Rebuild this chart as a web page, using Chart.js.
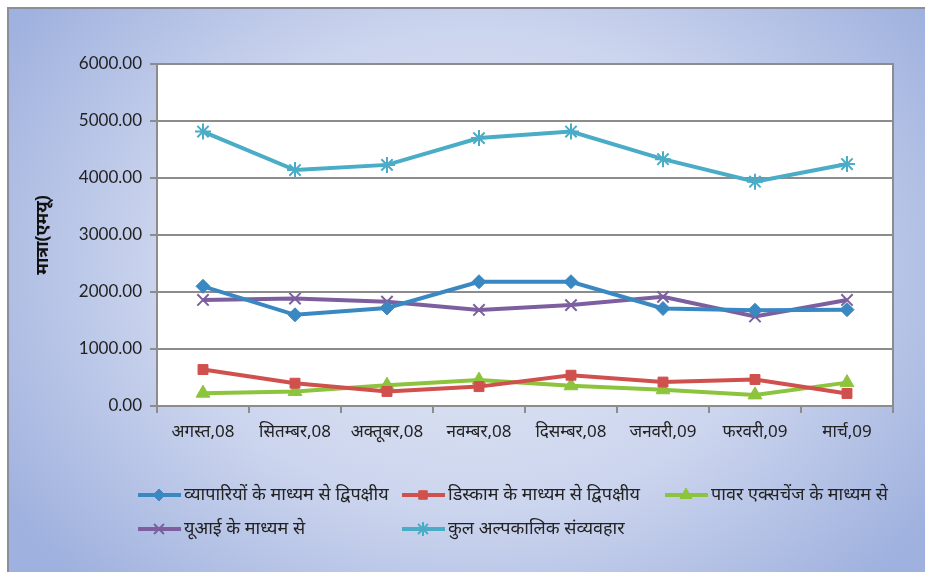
<!DOCTYPE html>
<html>
<head>
<meta charset="utf-8">
<script src="https://cdn.jsdelivr.net/npm/chart.js@4.4.1/dist/chart.umd.min.js"></script>
<style>
  html, body { margin: 0; padding: 0; background: #ffffff; }
  #wrap {
    position: absolute; left: 0; top: 0; width: 925px; height: 572px;
  }
  #frame {
    position: absolute; left: 7px; top: 7px; width: 930px; height: 580px;
    border-left: 2px solid #8a8f9a; border-top: 2px solid #8a8f9a;
    background: radial-gradient(ellipse 60% 75% at 50% 45%, #e4e9f5 0%, #ccd5ee 55%, #9fb1de 100%);
  }
  canvas { position: absolute; left: 0; top: 0; }
</style>
</head>
<body>
<div id="wrap">
  <div id="frame"></div>
  <canvas id="myChart" width="925" height="572"></canvas>
</div>
<script>
  const labels = ['अगस्त,08', 'सितम्बर,08', 'अक्तूबर,08', 'नवम्बर,08', 'दिसम्बर,08', 'जनवरी,09', 'फरवरी,09', 'मार्च,09'];

  const viaTraders = [2100, 1600, 1720, 2180, 2180, 1710, 1680, 1690];
  const viaDiscoms = [640, 400, 255, 340, 540, 420, 465, 220];
  const viaExchange = [225, 255, 365, 455, 355, 285, 195, 410];
  const viaUI = [1860, 1885, 1830, 1685, 1770, 1915, 1570, 1860];
  const totalShortTerm = [4815, 4140, 4230, 4700, 4815, 4330, 3935, 4245];

  const yTicks = [0, 1000, 2000, 3000, 4000, 5000, 6000];

  const tickFont = { family: 'Lato, "Noto Sans", sans-serif', size: 17 };

  function series(label, values, color, style, radius) {
    return {
      label: label,
      data: values,
      borderColor: color,
      backgroundColor: color,
      borderWidth: 4,
      pointStyle: style,
      pointRadius: radius,
      pointHoverRadius: radius,
      pointBorderColor: color,
      pointBackgroundColor: color,
      pointBorderWidth: (style === 'star' || style === 'crossRot') ? 2 : 1,
      tension: 0
    };
  }

  const data = {
    labels: labels,
    datasets: [
      series('व्यापारियों के माध्यम से द्विपक्षीय', viaTraders, '#3a88c2', 'rectRot', 7),
      series('डिस्काम के माध्यम से द्विपक्षीय', viaDiscoms, '#d0504d', 'rect', 7),
      series('पावर एक्सचेंज के माध्यम से', viaExchange, '#8cc43e', 'triangle', 8),
      series('यूआई के माध्यम से', viaUI, '#7d5fa0', 'crossRot', 8),
      series('कुल अल्पकालिक संव्यवहार', totalShortTerm, '#4aacc6', 'star', 8)
    ]
  };

  // white plot area + border, and a legend laid out like the original
  const plotBox = {
    id: 'plotBox',
    beforeDraw(chart) {
      const a = chart.chartArea, ctx = chart.ctx;
      ctx.save();
      ctx.fillStyle = '#ffffff';
      ctx.fillRect(a.left, a.top, a.right - a.left, a.bottom - a.top);
      ctx.restore();
    },
    afterDraw(chart) {
      const a = chart.chartArea, ctx = chart.ctx;
      ctx.save();
      ctx.strokeStyle = '#8c8c8c';
      ctx.lineWidth = 2;
      ctx.strokeRect(a.left, a.top, a.right - a.left, a.bottom - a.top);

      const cols = [138, 402, 665];
      const rows = [495, 529];
      const slots = [[0, 0], [0, 1], [0, 2], [1, 0], [1, 1]];
      ctx.font = '18px "Noto Sans", sans-serif';
      ctx.textBaseline = 'middle';
      chart.data.datasets.forEach(function(ds, i) {
        const x = cols[slots[i][1]], y = rows[slots[i][0]];
        ctx.strokeStyle = ds.borderColor;
        ctx.lineWidth = 4;
        ctx.beginPath();
        ctx.moveTo(x, y);
        ctx.lineTo(x + 43, y);
        ctx.stroke();
        ctx.fillStyle = ds.borderColor;
        ctx.lineWidth = ds.pointBorderWidth;
        Chart.helpers.drawPoint(ctx, {
          pointStyle: ds.pointStyle,
          radius: ds.pointRadius - 1,
          rotation: 0,
          borderWidth: ds.pointBorderWidth
        }, x + 21, y);
        ctx.fillStyle = '#222222';
        ctx.fillText(ds.label, x + 46, y);
      });
      ctx.restore();
    }
  };

  const config = {
    type: 'line',
    data: data,
    options: {
      responsive: false,
      animation: false,
      layout: { padding: { left: 32, right: 32, top: 64, bottom: 106 } },
      plugins: {
        legend: { display: false },
        tooltip: { enabled: false }
      },
      scales: {
        x: {
          offset: true,
          grid: { offset: true, drawOnChartArea: false, color: '#8c8c8c', lineWidth: 2, tickLength: 7 },
          border: { color: '#8c8c8c', width: 2 },
          ticks: { font: { family: '"Noto Sans", sans-serif', size: 17 }, color: '#222', maxRotation: 0, padding: 9 },
          afterFit: function(scale) { scale.height = 60; }
        },
        y: {
          min: 0,
          max: 6000,
          afterBuildTicks: function(scale) { scale.ticks = yTicks.map(v => ({ value: v })); },
          grid: { color: '#8c8c8c', lineWidth: 2, tickLength: 7 },
          border: { color: '#8c8c8c', width: 2 },
          ticks: {
            font: tickFont,
            color: '#222',
            padding: 8,
            callback: function(v) { return Number(v).toFixed(2); }
          },
          title: {
            display: true,
            text: 'मात्रा(एमयू)',
            color: '#111',
            font: { family: '"Noto Sans", sans-serif', size: 18, weight: 'bold' },
            padding: { top: 0, bottom: 8 }
          },
          afterFit: function(scale) { scale.width = 125; }
        }
      }
    },
    plugins: [plotBox]
  };

  const myChart = new Chart(document.getElementById('myChart'), config);
</script>
</body>
</html>
